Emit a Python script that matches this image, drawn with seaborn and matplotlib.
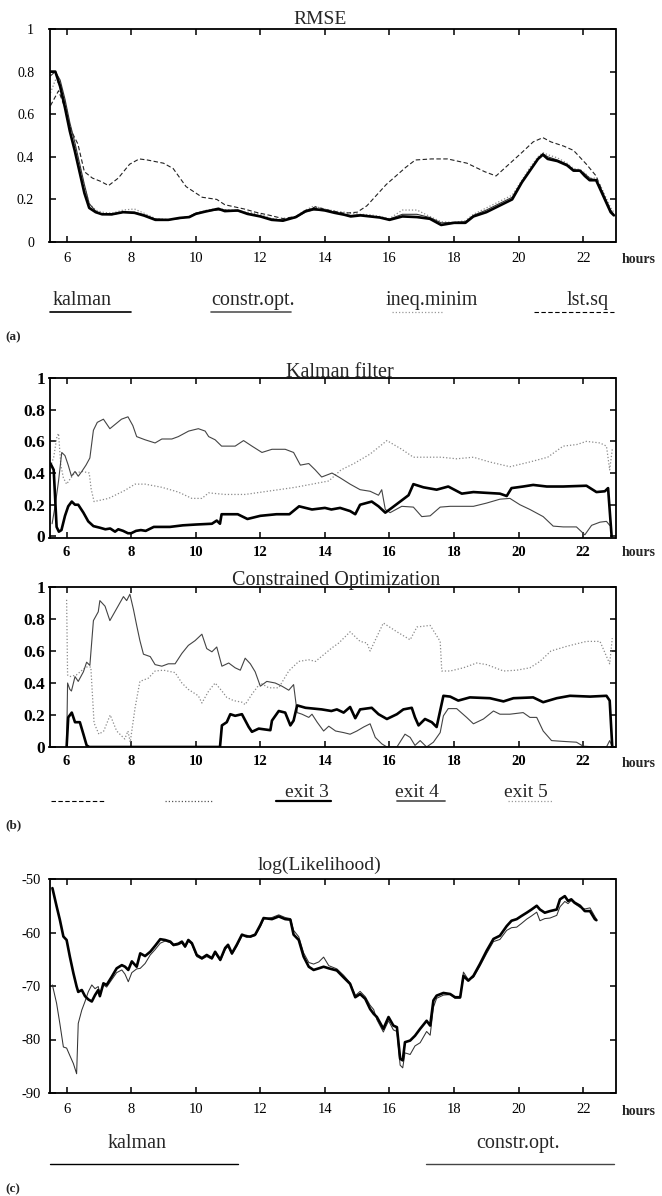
import matplotlib
matplotlib.use("Agg")
import matplotlib.pyplot as plt
from matplotlib.lines import Line2D
import seaborn as sns

# ---------------- data: panel (a) RMSE ----------------
A_HOURS = [5.5, 5.65, 5.8, 5.95, 6.1, 6.25, 6.4, 6.55, 6.7, 6.9, 7.1, 7.4, 7.75, 8.1, 8.4,
           8.75, 9.15, 9.5, 9.8, 10.0, 10.3, 10.7, 10.9, 11.3, 11.6, 12.0, 12.35, 12.7, 13.1, 13.4,
           13.65, 14.0, 14.3, 14.6, 14.8, 15.1, 15.4, 15.7, 16.0, 16.4, 16.85, 17.25, 17.6, 18.0, 18.35,
           18.6, 19.0, 19.4, 19.8, 20.1, 20.35, 20.6, 20.75, 20.9, 21.2, 21.5, 21.7, 21.9, 22.05, 22.2,
           22.4, 22.55, 22.7, 22.85, 22.95]
RMSE_KALMAN = [0.80, 0.80, 0.73, 0.63, 0.52, 0.43, 0.33, 0.23, 0.16, 0.14,
               0.13, 0.13, 0.14, 0.137, 0.124, 0.104, 0.104, 0.113, 0.117, 0.132,
               0.143, 0.156, 0.145, 0.148, 0.132, 0.12, 0.104, 0.10, 0.117, 0.145,
               0.155, 0.148, 0.137, 0.128, 0.12, 0.125, 0.12, 0.115, 0.104, 0.12,
               0.117, 0.109, 0.08, 0.09, 0.09, 0.12, 0.14, 0.17, 0.20, 0.28,
               0.335, 0.39, 0.41, 0.39, 0.38, 0.36, 0.335, 0.335, 0.31, 0.29,
               0.29, 0.24, 0.19, 0.14, 0.125]
RMSE_CONSTR = [0.78, 0.80, 0.76, 0.67, 0.56, 0.47, 0.37, 0.27, 0.18, 0.145,
               0.13, 0.128, 0.14, 0.14, 0.128, 0.108, 0.104, 0.11, 0.12, 0.135,
               0.145, 0.15, 0.15, 0.145, 0.135, 0.122, 0.108, 0.103, 0.115, 0.14,
               0.15, 0.15, 0.14, 0.13, 0.125, 0.128, 0.122, 0.115, 0.108, 0.13,
               0.13, 0.115, 0.09, 0.092, 0.095, 0.125, 0.15, 0.18, 0.21, 0.285,
               0.34, 0.39, 0.415, 0.40, 0.385, 0.365, 0.34, 0.335, 0.32, 0.30,
               0.29, 0.25, 0.20, 0.15, 0.13]
RMSE_INEQ = [0.70, 0.76, 0.74, 0.66, 0.55, 0.46, 0.36, 0.26, 0.18, 0.15,
             0.14, 0.135, 0.15, 0.155, 0.135, 0.11, 0.105, 0.112, 0.12, 0.135,
             0.148, 0.158, 0.152, 0.148, 0.14, 0.13, 0.11, 0.105, 0.12, 0.15,
             0.168, 0.155, 0.145, 0.14, 0.135, 0.13, 0.128, 0.12, 0.11, 0.15,
             0.15, 0.12, 0.095, 0.092, 0.10, 0.13, 0.16, 0.19, 0.22, 0.29,
             0.35, 0.40, 0.42, 0.41, 0.395, 0.37, 0.345, 0.34, 0.325, 0.30,
             0.30, 0.26, 0.21, 0.16, 0.14]
LS_HOURS = [5.5, 5.75, 5.95, 6.15, 6.35, 6.55, 6.8, 7.05, 7.3, 7.6, 7.95, 8.25, 8.5, 9.0, 9.3,
            9.7, 10.2, 10.65, 10.9, 11.5, 11.85, 12.3, 12.7, 13.1, 13.5, 13.7, 14.1, 14.6, 15.0, 15.3,
            15.9, 16.5, 16.8, 17.3, 17.8, 18.4, 18.95, 19.3, 19.7, 20.1, 20.45, 20.75, 21.0, 21.4, 21.7,
            22.1, 22.4, 22.75, 22.9]
RMSE_LSTSQ = [0.64, 0.71, 0.63, 0.52, 0.46, 0.33, 0.30, 0.285, 0.265, 0.30,
              0.365, 0.39, 0.385, 0.37, 0.345, 0.26, 0.21, 0.20, 0.175, 0.155,
              0.14, 0.125, 0.11, 0.12, 0.15, 0.165, 0.15, 0.135, 0.14, 0.17,
              0.27, 0.35, 0.385, 0.39, 0.39, 0.37, 0.33, 0.31, 0.365, 0.42,
              0.47, 0.49, 0.47, 0.45, 0.43, 0.365, 0.31, 0.18, 0.13]

# ---------------- data: panel (b) Kalman filter ----------------
KF_E3_HOURS = [5.5, 5.6, 5.69, 5.76, 5.84, 5.95, 6.05, 6.16, 6.26, 6.36, 6.52, 6.67, 6.83, 7.03, 7.2,
               7.35, 7.5, 7.6, 7.75, 7.9, 8.0, 8.15, 8.3, 8.45, 8.7, 9.2, 9.6, 10.0, 10.5, 10.65,
               10.75, 10.8, 11.3, 11.6, 12.0, 12.5, 12.9, 13.2, 13.6, 14.0, 14.2, 14.47, 14.78, 14.94, 15.09,
               15.45, 15.66, 15.87, 16.07, 16.33, 16.59, 16.74, 17.05, 17.46, 17.82, 18.24, 18.6, 19.0, 19.42, 19.63,
               19.78, 20.14, 20.45, 20.87, 21.38, 22.1, 22.41, 22.67, 22.77, 22.88]
KF_E3 = [0.46, 0.42, 0.06, 0.03, 0.04, 0.13, 0.19, 0.22, 0.2, 0.2,
         0.15, 0.095, 0.065, 0.055, 0.045, 0.05, 0.03, 0.045, 0.035, 0.02,
         0.02, 0.035, 0.04, 0.035, 0.06, 0.06, 0.07, 0.075, 0.08, 0.10,
         0.08, 0.14, 0.14, 0.11, 0.13, 0.14, 0.14, 0.19, 0.17, 0.18,
         0.17, 0.18, 0.16, 0.14, 0.2, 0.22, 0.19, 0.15, 0.18, 0.22,
         0.26, 0.33, 0.31, 0.295, 0.315, 0.27, 0.28, 0.275, 0.27, 0.255,
         0.305, 0.315, 0.325, 0.315, 0.315, 0.32, 0.28, 0.285, 0.305, 0.0]
KF_E4_HOURS = [5.55, 5.65, 5.75, 5.85, 5.95, 6.05, 6.15, 6.26, 6.36, 6.47, 6.6, 6.72, 6.83, 6.95, 7.14,
               7.34, 7.55, 7.7, 7.9, 8.05, 8.17, 8.43, 8.74, 8.95, 9.26, 9.46, 9.78, 10.08, 10.29, 10.4,
               10.6, 10.8, 11.22, 11.48, 11.74, 12.05, 12.36, 12.77, 13.03, 13.24, 13.5, 13.7, 13.9, 14.22, 14.47,
               14.78, 15.09, 15.4, 15.66, 15.76, 15.87, 16.02, 16.38, 16.74, 17.0, 17.26, 17.57, 17.88, 18.19, 18.6,
               19.0, 19.42, 19.73, 20.04, 20.35, 20.76, 21.07, 21.38, 21.79, 22.05, 22.26, 22.52, 22.72, 22.82]
KF_E4 = [0.08, 0.2, 0.35, 0.53, 0.51, 0.45, 0.38, 0.41, 0.38, 0.41,
         0.45, 0.495, 0.67, 0.72, 0.74, 0.68, 0.715, 0.74, 0.755, 0.70,
         0.63, 0.61, 0.59, 0.615, 0.615, 0.63, 0.665, 0.68, 0.665, 0.63,
         0.61, 0.57, 0.57, 0.605, 0.57, 0.53, 0.55, 0.55, 0.53, 0.45,
         0.46, 0.42, 0.375, 0.40, 0.37, 0.33, 0.295, 0.285, 0.26, 0.295,
         0.17, 0.15, 0.19, 0.185, 0.125, 0.13, 0.185, 0.19, 0.19, 0.19,
         0.21, 0.235, 0.24, 0.2, 0.17, 0.125, 0.065, 0.06, 0.06, 0.01,
         0.07, 0.09, 0.095, 0.07]
KF_E5_HOURS = [5.5, 5.6, 5.7, 5.75, 5.82, 5.9, 6.0, 6.1, 6.25, 6.5, 6.7, 6.76, 6.85, 7.3, 7.8,
               8.12, 8.43, 8.95, 9.46, 9.88, 10.19, 10.4, 10.9, 11.53, 12.05, 12.57, 13.08, 13.6, 14.12, 14.5,
               14.9, 15.4, 15.92, 16.38, 16.74, 17.15, 17.6, 18.08, 18.6, 19.1, 19.73, 20.35, 20.9, 21.38, 21.8,
               22.1, 22.52, 22.72, 22.82, 22.9]
KF_E5 = [0.44, 0.5, 0.63, 0.65, 0.45, 0.37, 0.33, 0.36, 0.40, 0.41,
         0.40, 0.30, 0.22, 0.24, 0.29, 0.33, 0.33, 0.31, 0.28, 0.24,
         0.24, 0.275, 0.265, 0.265, 0.28, 0.295, 0.31, 0.33, 0.35, 0.42,
         0.46, 0.52, 0.605, 0.55, 0.50, 0.50, 0.50, 0.49, 0.50, 0.47,
         0.44, 0.47, 0.50, 0.57, 0.58, 0.60, 0.59, 0.57, 0.42, 0.55]

# ---------------- data: panel (b) Constrained Optimization ----------------
CO_E3_HOURS = [6.0, 6.05, 6.16, 6.26, 6.41, 6.52, 6.62, 6.7, 10.75, 10.81, 10.96, 11.07, 11.22, 11.43, 11.64,
               11.74, 11.95, 12.31, 12.36, 12.57, 12.77, 12.93, 13.03, 13.14, 13.4, 13.9, 14.2, 14.37, 14.58, 14.78,
               14.94, 15.09, 15.45, 15.66, 15.92, 16.23, 16.43, 16.69, 16.79, 16.9, 17.1, 17.31, 17.46, 17.67, 17.88,
               18.13, 18.49, 19.11, 19.53, 19.84, 20.45, 20.76, 21.18, 21.59, 22.21, 22.72, 22.82, 22.9]
CO_E3 = [0.0, 0.185, 0.215, 0.155, 0.155, 0.08, 0.01, 0.0, 0.0, 0.135,
         0.155, 0.205, 0.195, 0.205, 0.125, 0.095, 0.115, 0.105, 0.165, 0.225,
         0.215, 0.135, 0.165, 0.26, 0.245, 0.235, 0.225, 0.235, 0.215, 0.25,
         0.18, 0.235, 0.245, 0.205, 0.175, 0.205, 0.235, 0.245, 0.185, 0.135,
         0.175, 0.155, 0.125, 0.32, 0.315, 0.29, 0.31, 0.305, 0.285, 0.305,
         0.31, 0.28, 0.305, 0.32, 0.315, 0.32, 0.29, 0.0]
CO_E4_HOURS = [6.0, 6.03, 6.1, 6.15, 6.26, 6.36, 6.52, 6.62, 6.72, 6.83, 6.98, 7.03, 7.19, 7.34, 7.55,
               7.76, 7.86, 7.96, 8.07, 8.17, 8.27, 8.38, 8.59, 8.74, 8.95, 9.15, 9.36, 9.57, 9.77, 9.98,
               10.19, 10.34, 10.5, 10.65, 10.81, 11.02, 11.22, 11.38, 11.53, 11.69, 11.84, 12.0, 12.2, 12.46, 12.67,
               12.88, 13.03, 13.14, 13.29, 13.5, 13.6, 13.76, 13.96, 14.12, 14.33, 14.58, 14.78, 14.99, 15.2, 15.4,
               15.56, 15.76, 15.92, 16.23, 16.48, 16.64, 16.79, 16.95, 17.15, 17.36, 17.57, 17.67, 17.82, 18.08, 18.39,
               18.6, 18.91, 19.22, 19.42, 19.73, 20.14, 20.35, 20.56, 20.76, 21.02, 21.38, 21.79, 22.0, 22.41, 22.72,
               22.82, 22.9]
CO_E4 = [0.0, 0.40, 0.36, 0.35, 0.44, 0.41, 0.47, 0.53, 0.51, 0.79,
         0.845, 0.915, 0.88, 0.79, 0.865, 0.94, 0.915, 0.955, 0.86, 0.76,
         0.665, 0.58, 0.565, 0.515, 0.505, 0.52, 0.52, 0.585, 0.635, 0.665,
         0.705, 0.615, 0.595, 0.625, 0.505, 0.525, 0.495, 0.48, 0.555, 0.52,
         0.47, 0.38, 0.41, 0.40, 0.38, 0.355, 0.39, 0.215, 0.205, 0.185,
         0.205, 0.155, 0.10, 0.13, 0.10, 0.09, 0.08, 0.10, 0.125, 0.145,
         0.06, 0.02, 0.0, 0.0, 0.08, 0.06, 0.01, 0.04, 0.0, 0.03,
         0.09, 0.195, 0.24, 0.24, 0.185, 0.145, 0.175, 0.225, 0.205, 0.205,
         0.215, 0.185, 0.185, 0.10, 0.04, 0.035, 0.03, 0.005, 0.0, 0.0,
         0.04, 0.0]
CO_E5_HOURS = [6.0, 6.03, 6.1, 6.3, 6.6, 6.75, 6.85, 7.0, 7.15, 7.35, 7.55, 7.8, 7.9, 7.97, 8.12,
               8.27, 8.53, 8.74, 9.0, 9.36, 9.57, 9.77, 10.08, 10.19, 10.4, 10.6, 10.81, 10.96, 11.17, 11.43,
               11.53, 11.74, 12.0, 12.26, 12.57, 12.88, 13.19, 13.5, 13.71, 14.22, 14.43, 14.78, 15.09, 15.3, 15.4,
               15.81, 16.23, 16.64, 16.85, 17.26, 17.57, 17.62, 17.88, 18.29, 18.7, 19.01, 19.53, 19.94, 20.35, 20.66,
               21.0, 21.5, 22.1, 22.52, 22.82, 22.9]
CO_E5 = [0.92, 0.45, 0.44, 0.45, 0.50, 0.50, 0.15, 0.08, 0.10, 0.20,
         0.10, 0.05, 0.10, 0.03, 0.245, 0.41, 0.43, 0.475, 0.48, 0.465,
         0.40, 0.36, 0.32, 0.275, 0.35, 0.40, 0.35, 0.31, 0.29, 0.28,
         0.265, 0.33, 0.40, 0.37, 0.37, 0.475, 0.535, 0.545, 0.535, 0.62,
         0.65, 0.72, 0.66, 0.65, 0.60, 0.775, 0.72, 0.67, 0.75, 0.76,
         0.66, 0.475, 0.475, 0.495, 0.525, 0.515, 0.475, 0.48, 0.495, 0.535,
         0.60, 0.63, 0.66, 0.66, 0.52, 0.68]

# ---------------- data: panel (c) log(Likelihood) ----------------
LL_HOURS = [5.56, 5.69, 5.79, 5.9, 6.0, 6.1, 6.21, 6.31, 6.36, 6.47, 6.57, 6.67, 6.78, 6.88, 6.98,
            7.03, 7.14, 7.24, 7.4, 7.55, 7.71, 7.81, 7.91, 8.02, 8.17, 8.28, 8.43, 8.59, 8.74, 8.9,
            9.05, 9.21, 9.31, 9.46, 9.57, 9.67, 9.77, 9.88, 10.03, 10.19, 10.34, 10.5, 10.6, 10.76, 10.91,
            11.0, 11.12, 11.27, 11.43, 11.58, 11.69, 11.84, 12.0, 12.1, 12.36, 12.57, 12.77, 12.93, 13.03, 13.19,
            13.34, 13.5, 13.65, 13.81, 13.96, 14.12, 14.37, 14.58, 14.78, 14.94, 15.09, 15.25, 15.4, 15.51, 15.61,
            15.81, 15.97, 16.12, 16.23, 16.33, 16.41, 16.48, 16.64, 16.79, 16.95, 17.15, 17.26, 17.36, 17.46, 17.67,
            17.88, 18.03, 18.19, 18.29, 18.44, 18.6, 18.8, 19.01, 19.22, 19.42, 19.63, 19.78, 19.94, 20.09, 20.25,
            20.4, 20.56, 20.66, 20.81, 20.97, 21.18, 21.28, 21.43, 21.53, 21.63, 21.73, 21.9, 22.05, 22.21, 22.36,
            22.41]
LL_KALMAN = [-51.7, -55.1, -57.6, -60.75, -61.4, -64.5, -67.6, -70.1, -71.1, -70.75,
             -71.9, -72.5, -72.9, -71.7, -70.75, -71.9, -69.5, -69.8, -68.25, -66.7,
             -66.1, -66.4, -67.0, -65.4, -66.4, -63.9, -64.4, -63.6, -62.5, -61.25,
             -61.4, -61.7, -62.3, -62.1, -61.7, -62.6, -61.4, -62.0, -64.2, -64.8,
             -64.2, -64.8, -63.6, -65.1, -62.9, -62.3, -63.9, -62.3, -60.4, -60.75,
             -60.75, -60.4, -58.6, -57.3, -57.5, -57.0, -57.5, -57.6, -60.4, -61.4,
             -64.5, -66.4, -67.0, -66.7, -66.4, -66.7, -67.1, -68.4, -69.6, -72.1,
             -71.5, -72.4, -74.3, -75.2, -75.8, -78.0, -75.8, -77.4, -77.7, -83.6,
             -83.9, -80.5, -80.2, -79.3, -78.0, -76.5, -77.4, -72.7, -71.8, -71.3,
             -71.5, -72.1, -72.1, -68.1, -69.0, -68.1, -65.9, -63.4, -61.2, -60.6,
             -58.8, -57.8, -57.5, -56.9, -56.3, -55.7, -55.0, -55.7, -56.3, -56.0,
             -55.7, -53.8, -53.2, -54.1, -53.8, -54.4, -55.0, -56.0, -56.0, -57.5,
             -57.7]
LL_CONSTR = [-69.8, -73.25, -77.0, -81.4, -81.6, -83.0, -84.5, -86.4, -77.0, -74.5,
             -72.9, -71.1, -69.8, -70.5, -70.1, -71.5, -69.8, -70.2, -68.8, -67.5,
             -67.0, -67.8, -69.2, -67.5, -66.8, -66.7, -65.8, -64.2, -63.2, -62.0,
             -61.6, -61.9, -62.5, -62.3, -62.0, -62.8, -61.6, -62.2, -64.5, -65.0,
             -64.5, -65.0, -63.9, -65.3, -63.2, -62.6, -64.1, -62.6, -60.6, -60.5,
             -60.9, -60.6, -58.9, -57.5, -57.2, -56.7, -57.2, -57.4, -59.6, -60.8,
             -63.8, -65.6, -65.9, -65.5, -64.6, -66.2, -66.8, -68.0, -69.4, -71.8,
             -71.0, -72.0, -73.6, -74.4, -76.3, -78.6, -76.5, -78.2, -78.5, -84.8,
             -85.3, -82.5, -82.8, -81.2, -80.6, -78.5, -79.2, -74.0, -72.3, -71.7,
             -71.6, -72.3, -72.3, -67.4, -68.8, -68.4, -66.3, -63.9, -61.7, -61.3,
             -59.6, -59.1, -59.0, -58.3, -57.5, -56.9, -56.2, -57.8, -57.4, -57.3,
             -56.8, -55.2, -54.2, -54.6, -54.0, -54.6, -55.3, -55.6, -55.4, -57.0,
             -57.5]

HOUR_TICKS = [6, 8, 10, 12, 14, 16, 18, 20, 22]
SHARE_TICKS = [0, 0.2, 0.4, 0.6, 0.8, 1.0]
SHARE_LABELS = ["0", "0.2", "0.4", "0.6", "0.8", "1"]
LL_TICKS = [-90, -80, -70, -60, -50]
LL_LABELS = ["-90", "-80", "-70", "-60", "-50"]

# ---------------- figure ----------------
sns.set_style("ticks")
plt.rcParams["font.family"] = ["Liberation Serif", "DejaVu Serif"]

W, H = 662, 1196
fig = plt.figure(figsize=(W / 100, H / 100), dpi=100)
fig.patch.set_facecolor("white")

LEFT, RIGHT = 49.5, 615.5


def fx(x):
    return x / W


def fy(y):
    return 1 - y / H


def make_ax(top, bottom):
    ax = fig.add_axes([fx(LEFT), fy(bottom), (RIGHT - LEFT) / W, (bottom - top) / H])
    ax.set_facecolor("white")
    for s in ax.spines.values():
        s.set_linewidth(1.3)
        s.set_color("black")
    ax.tick_params(direction="in", top=True, right=True, length=4, width=1.1, colors="black")
    ax.set_xlim(5.47, 23.0)
    ax.set_xticks(HOUR_TICKS)
    return ax


def draw(ax, x, y, **kw):
    sns.lineplot(x=x, y=y, ax=ax, estimator=None, sort=False, legend=False, **kw)


DOT = (0, (1, 1.6))
DASH = (0, (4, 2.2))

# ---- panel (a) ----
axA = make_ax(29, 242)
draw(axA, A_HOURS, RMSE_INEQ, color="#8a8a8a", linewidth=0.9, linestyle=DOT)
draw(axA, LS_HOURS, RMSE_LSTSQ, color="#222222", linewidth=0.8, linestyle=DASH)
draw(axA, A_HOURS, RMSE_CONSTR, color="#333333", linewidth=0.8)
draw(axA, A_HOURS, RMSE_KALMAN, color="black", linewidth=1.9)
axA.set_ylim(0, 1)
axA.set_yticks(SHARE_TICKS)
axA.set_yticklabels(SHARE_LABELS, fontsize=10)
axA.set_xticklabels([str(t) for t in HOUR_TICKS], fontsize=10.5)
axA.tick_params(axis="y", pad=11)
axA.tick_params(axis="x", pad=7)
axA.set_xlabel("")
axA.set_ylabel("")

# ---- panel (b) Kalman filter ----
axB1 = make_ax(378, 538)
draw(axB1, KF_E5_HOURS, KF_E5, color="#8a8a8a", linewidth=0.9, linestyle=DOT)
draw(axB1, KF_E4_HOURS, KF_E4, color="#444444", linewidth=0.8)
draw(axB1, KF_E3_HOURS, KF_E3, color="black", linewidth=1.9)
axB1.set_ylim(-0.01, 1.0)

# ---- panel (b) Constrained Optimization ----
axB2 = make_ax(587, 747)
draw(axB2, CO_E5_HOURS, CO_E5, color="#8a8a8a", linewidth=0.9, linestyle=DOT)
draw(axB2, CO_E4_HOURS, CO_E4, color="#444444", linewidth=0.8)
draw(axB2, CO_E3_HOURS, CO_E3, color="black", linewidth=1.9)
axB2.set_ylim(0, 0.995)

for ax in (axB1, axB2):
    ax.set_yticks(SHARE_TICKS)
    ax.set_yticklabels(SHARE_LABELS, fontsize=12.5, fontweight="bold")
    ax.set_xticklabels([str(t) for t in HOUR_TICKS], fontsize=10.5, fontweight="bold")
    ax.tick_params(axis="y", pad=3)
    ax.tick_params(axis="x", pad=6)
    ax.set_xlabel("")
    ax.set_ylabel("")

# ---- panel (c) ----
axC = make_ax(879, 1093)
draw(axC, LL_HOURS, LL_CONSTR, color="#333333", linewidth=0.75)
draw(axC, LL_HOURS, LL_KALMAN, color="black", linewidth=1.9)
axC.set_ylim(-90, -50)
axC.set_yticks(LL_TICKS)
axC.set_yticklabels(LL_LABELS, fontsize=10.5)
axC.set_xticklabels([str(t) for t in HOUR_TICKS], fontsize=10.5)
axC.tick_params(axis="y", pad=6)
axC.tick_params(axis="x", pad=7)
axC.set_xlabel("")
axC.set_ylabel("")

# ---- titles ----
fig.text(fx(320), fy(24), "RMSE", ha="center", va="baseline", fontsize=14)
fig.text(fx(340), fy(377), "Kalman filter", ha="center", va="baseline", fontsize=14.5)
fig.text(fx(336), fy(585), "Constrained Optimization", ha="center", va="baseline", fontsize=14.5)
fig.text(fx(320), fy(870), "log(Likelihood)", ha="center", va="baseline", fontsize=14)

# ---- "hours" labels ----
for yy in (263, 556, 767, 1115):
    fig.text(fx(622), fy(yy), "hours", ha="left", va="baseline", fontsize=10, fontweight="bold")


def leg_line(x0, x1, y, **kw):
    fig.add_artist(Line2D([fx(x0), fx(x1)], [fy(y), fy(y)], transform=fig.transFigure, **kw))


def leg_text(x, y, s, size=14.5):
    fig.text(fx(x), fy(y), s, ha="left", va="baseline", fontsize=size)


# legend (a)
leg_text(53, 305, "kalman")
leg_text(211, 305, "constr.opt.")
leg_text(386, 305, "ineq.minim")
leg_text(567, 305, "lst.sq")
leg_line(50, 131, 312, color="black", linewidth=1.2)
leg_line(211, 291, 312, color="#555555", linewidth=1.2)
leg_line(392, 443, 312, color="#999999", linewidth=0.9, linestyle=DOT)
leg_line(534, 614, 312, color="black", linewidth=0.8, linestyle=DASH)

# legend (b)
leg_line(51, 105, 801, color="black", linewidth=0.8, linestyle=DASH)
leg_line(165, 213, 801, color="#555555", linewidth=0.9, linestyle=DOT)
leg_text(285, 797, "exit 3", 14)
leg_line(276, 331, 801, color="black", linewidth=1.6)
leg_text(395, 797, "exit 4", 14)
leg_line(397, 445, 801, color="#555555", linewidth=1.3)
leg_text(504, 797, "exit 5", 14)
leg_line(508, 553, 801, color="#999999", linewidth=0.9, linestyle=DOT)

# legend (c)
leg_text(108, 1148, "kalman")
leg_text(476, 1148, "constr.opt.")
leg_line(50, 238, 1164, color="black", linewidth=1.0)
leg_line(426, 614, 1164, color="#444444", linewidth=1.0)

# panel letters
for yy, s in ((340, "(a)"), (828, "(b)"), (1192, "(c)")):
    fig.text(fx(5), fy(yy), s, ha="left", va="baseline", fontsize=9.5, fontweight="bold")

fig.savefig("out.png", dpi=100, facecolor="white")
